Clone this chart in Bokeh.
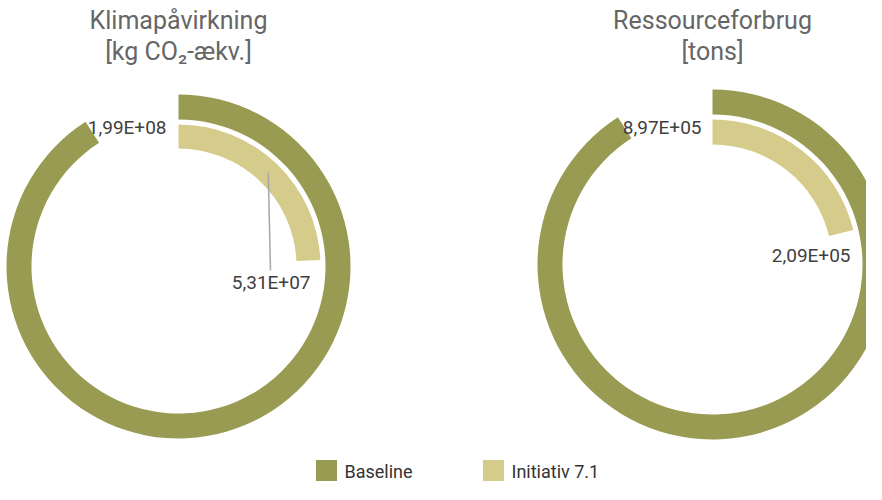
import math
from bokeh.plotting import figure
from bokeh.models import Range1d
from bokeh.core.properties import value
from bokeh.embed import file_html
from bokeh.resources import INLINE

# ---- data ----
titles = ["Klimapåvirkning", "Ressourceforbrug"]
units = ["[kg CO\u2082-ækv.]", "[tons]"]
series_names = ["Baseline", "Initiativ 7.1"]
baseline = [1.99e8, 8.97e5]
initiativ = [5.31e7, 2.09e5]
baseline_labels = ["1,99E+08", "8,97E+05"]
initiativ_labels = ["5,31E+07", "2,09E+05"]

# ---- style / layout ----
C_BASE = "#9A9B52"
C_INIT = "#D5CC8C"
FONT = "Roboto"
W, H = 866, 484
MARGIN = 8

def Y(sy):  # screen y -> data y
    return 500 - sy

centers = [(186, 274), (720, 272)]
rings = [  # (base_inner, base_outer, init_inner, init_outer)
    (147, 172, 118, 142),
    (150, 175, 120, 145),
]
# label offsets (relative to chart center, in screen px)
base_lab_off = [(-12, -139), (-11, -137)]
init_lab_off = [(132, 16), (138, -9)]
leader = [True, False]

p = figure(width=W, height=H, output_backend="svg", toolbar_location=None,
           x_range=Range1d(MARGIN, MARGIN + W), y_range=Range1d(500 - MARGIN - H, 500 - MARGIN),
           min_border=0)
p.axis.visible = False
p.grid.visible = False
p.outline_line_color = None
p.background_fill_color = "white"

for i in range(2):
    cx, cy = centers[i]
    bi, bo, ii, io = rings[i]
    scale_max = baseline[i] * 1.1
    a0 = math.pi / 2
    a_base = a0 - baseline[i] / scale_max * 2 * math.pi
    a_init = a0 - initiativ[i] / scale_max * 2 * math.pi
    p.annular_wedge(x=cx, y=Y(cy), inner_radius=bi, outer_radius=bo,
                    start_angle=a0, end_angle=a_base, direction="clock",
                    fill_color=C_BASE, line_color=None)
    p.annular_wedge(x=cx, y=Y(cy), inner_radius=ii, outer_radius=io,
                    start_angle=a0, end_angle=a_init, direction="clock",
                    fill_color=C_INIT, line_color=None)
    # titles
    p.text(x=[cx], y=[Y(28)], text=[titles[i]], text_font=value(FONT),
           text_font_size="25px", text_color="#666666", text_align="center",
           text_baseline="middle")
    p.text(x=[cx], y=[Y(59)], text=[units[i]], text_font=value(FONT),
           text_font_size="25px", text_color="#666666", text_align="center",
           text_baseline="middle")
    # baseline label
    dx, dy = base_lab_off[i]
    p.text(x=[cx + dx], y=[Y(cy + dy)], text=[baseline_labels[i]], text_font=value(FONT),
           text_font_size="19px", text_color="#404040", text_align="right",
           text_baseline="middle")
    # initiative label
    dx, dy = init_lab_off[i]
    lx, ly = cx + dx, cy + dy
    p.text(x=[lx], y=[Y(ly)], text=[initiativ_labels[i]], text_font=value(FONT),
           text_font_size="19px", text_color="#404040", text_align="right",
           text_baseline="middle")
    if leader[i]:
        am = (a0 + a_init) / 2
        rm = (ii + io) / 2
        sx0 = cx + rm * math.cos(am)
        sy0 = cy - rm * math.sin(am)
        p.line(x=[sx0, lx - 40], y=[Y(sy0), Y(ly - 12)], line_color="#A6A6A6", line_width=1.5)

# legend (kept fully inside the figure)
leg_x = [334, 501]
for j, (name, col) in enumerate(zip(series_names, [C_BASE, C_INIT])):
    p.rect(x=[leg_x[j]], y=[Y(478)], width=21, height=21, fill_color=col, line_color=None)
    p.text(x=[leg_x[j] + 18], y=[Y(479)], text=[name], text_font=value(FONT),
           text_font_size="18px", text_color="#333333", text_align="left",
           text_baseline="middle")

open("out.html", "w").write(file_html(p, INLINE))
